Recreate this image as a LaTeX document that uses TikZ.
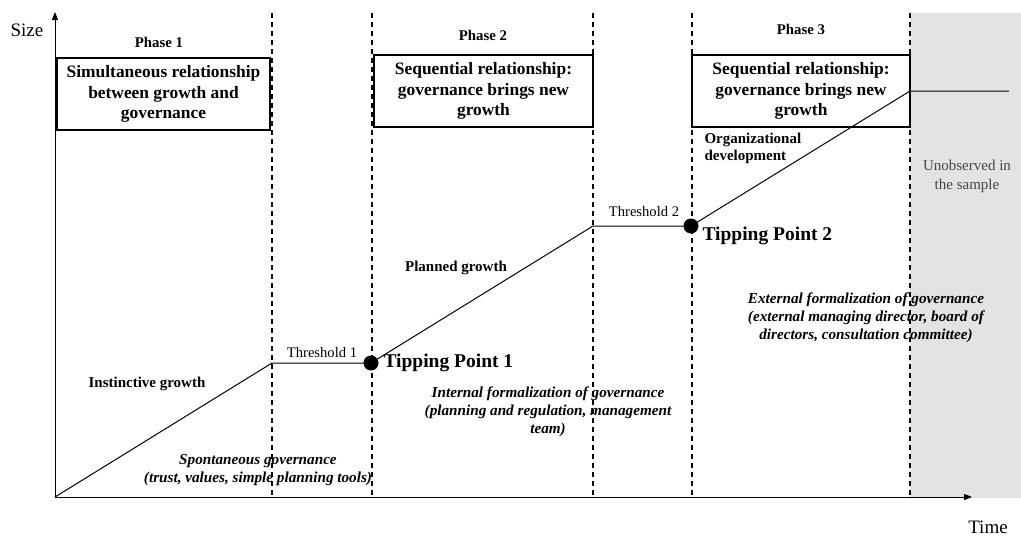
\documentclass[tikz,border=0pt]{standalone}
\usepackage{fontspec}
\setmainfont{Liberation Serif}
\usetikzlibrary{arrows.meta}
\usetikzlibrary{positioning}

\definecolor{unobsgray}{RGB}{227,227,227}
\definecolor{unobstext}{RGB}{70,70,70}

\tikzset{
  phaseline/.style={dashed, dash pattern=on 5pt off 4pt, line width=1.3pt},
  phasebox/.style={draw, line width=1.8pt, minimum width=213pt, minimum height=72pt, align=center, font=\fontsize{17.4}{20.5}\selectfont\bfseries, inner sep=2pt},
  phaselabel/.style={font=\fontsize{14.8}{16}\selectfont\bfseries},
  growthlabel/.style={font=\fontsize{15}{17}\selectfont\bfseries, align=left},
  govlabel/.style={font=\fontsize{15.2}{18}\selectfont\bfseries\itshape, align=center},
  thresh/.style={font=\fontsize{14.6}{16}\selectfont},
  tipping/.style={font=\fontsize{19.5}{22}\selectfont\bfseries, anchor=west},
  tipdot/.style={circle, fill, inner sep=0pt, minimum size=15pt},
  growthpath/.style={line width=1pt},
}

\begin{document}
\begin{tikzpicture}[x=1pt,y=1pt,yscale=-1,xscale=1]
\useasboundingbox (0,0) rectangle (1021,536);

% unobserved part
\fill[unobsgray] (910,13) rectangle (1021,498);

% axes
\coordinate (origin) at (55,497);
\coordinate (ytop) at (55,12);
\coordinate (xend) at (972,497);
\draw[line width=1pt, -{Triangle[length=8pt,width=6pt]}] (origin) -- (ytop);
\draw[line width=1pt, -{Triangle[length=8pt,width=6pt]}] (origin) -- (xend);
\node (size) at (27,30) {\fontsize{19}{21}\selectfont Size};
\node (time) at (988,527) {\fontsize{19}{21}\selectfont Time};

% phase borders
\foreach \px in {272,372,593,692,910}
  \draw[phaseline] (\px,13) -- (\px,497);

% phase titles
\node[phaselabel] (phase1) at (159,42) {Phase 1};
\node[phaselabel] (phase2) at (483,35) {Phase 2};
\node[phaselabel] (phase3) at (801,29) {Phase 3};

% relationship boxes
\node[phasebox] (box1) at (163.5,94) {Simultaneous relationship\\between growth and\\governance};
\node[phasebox, minimum width=219pt] (box2) at (483.5,91) {Sequential relationship:\\governance brings new\\growth};
\node[phasebox, minimum width=218pt] (box3) at (801,91) {Sequential relationship:\\governance brings new\\growth};

% growth path
\coordinate (th1a) at (272,363);
\node[tipdot] (tp1) at (371,363) {};
\coordinate (th2a) at (593,226);
\node[tipdot] (tp2) at (691,226) {};
\coordinate (ph3end) at (910,91);
\coordinate (unobsend) at (1009,91);
\draw[growthpath] (origin) -- (th1a) -- (tp1.center) -- (th2a) -- (tp2.center) -- (ph3end) -- (unobsend);

% thresholds and tipping points
\node[thresh] (thr1) at (322,353) {Threshold 1};
\node[thresh] (thr2) at (644,212) {Threshold 2};
\node[tipping] (tip1) at (380,363) {Tipping Point 1};
\node[tipping] (tip2) at (699,236) {Tipping Point 2};

% growth labels
\node[growthlabel] (instinct) at (147,384) {Instinctive growth};
\node[growthlabel] (planned) at (456,268) {Planned growth};
\node[growthlabel, anchor=west] (orgdev) at (701,148) {Organizational\\development};

% governance labels
\node[govlabel] (gov1) at (258,470) {Spontaneous governance\\(trust, values, simple planning tools)};
\node[govlabel] (gov2) at (548,412) {Internal formalization of governance\\(planning and regulation, management\\team)};
\node[govlabel] (gov3) at (866,318) {External formalization of governance\\(external managing director, board of\\directors, consultation committee)};

% unobserved note
\node[text=unobstext, align=center, font=\fontsize{15}{19}\selectfont] (unobs) at (967,176) {Unobserved in\\the sample};

\end{tikzpicture}
\end{document}
